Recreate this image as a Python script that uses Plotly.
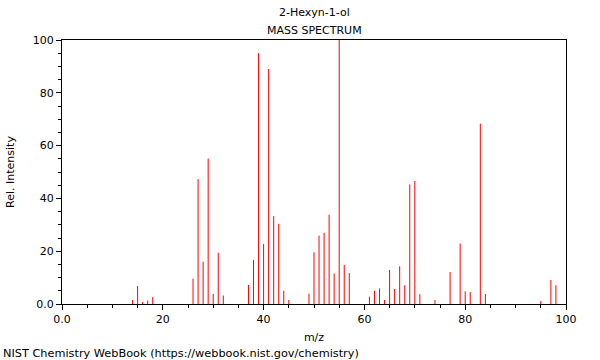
import plotly.graph_objects as go

mz = [14, 15, 16, 17, 18, 26, 27, 28, 29, 30, 31, 32, 37, 38, 39, 40, 41, 42, 43, 44, 45,
      49, 50, 51, 52, 53, 54, 55, 56, 57, 61, 62, 63, 64, 65, 66, 67, 68, 69, 70, 71,
      74, 77, 79, 80, 81, 83, 84, 95, 97, 98]
intensity = [1.5, 6.8, 0.8, 1.3, 2.6, 9.6, 47.3, 16.0, 55.1, 3.8, 19.4, 3.2, 7.2, 16.7, 95.0,
             22.7, 89.0, 33.3, 30.4, 5.0, 1.5, 3.9, 19.6, 25.9, 27.0, 33.8, 11.5, 100.0, 14.8,
             11.7, 2.8, 5.0, 5.9, 1.5, 12.9, 5.7, 14.3, 7.1, 45.3, 46.6, 3.7, 1.5, 12.1, 22.9,
             4.8, 4.5, 68.3, 3.8, 1.1, 9.1, 7.1]

tick_vals = [0, 20, 40, 60, 80, 100]
tick_text = ["0.0", "20", "40", "60", "80", "100"]

xs, ys = [], []
for m, v in zip(mz, intensity):
    xs += [m, m, None]
    ys += [0, v, None]

fig = go.Figure()
fig.add_trace(go.Scatter(x=xs, y=ys, mode="lines", line=dict(color="#ff0000", width=1),
                         hoverinfo="skip", showlegend=False))

font = dict(family="DejaVu Sans", size=11, color="black")
axis_common = dict(
    showgrid=False, zeroline=False, showline=True, linecolor="black", linewidth=1,
    mirror=True, ticks="outside", ticklen=5, tickcolor="black", tickfont=font,
    tickvals=tick_vals, ticktext=tick_text, automargin=False,
    minor=dict(ticks="outside", ticklen=3, dtick=5, tickcolor="black", showgrid=False),
)
L, R, T, B = 62, 34, 40, 56
plot_w = 600 - L - R
plot_h = 360 - T - B


def px_x(p):
    return (p - L) / plot_w


def px_y(p):
    return (360 - B - p) / plot_h


fig.update_layout(
    width=600, height=360,
    margin=dict(l=L, r=R, t=T, b=B),
    paper_bgcolor="white", plot_bgcolor="white",
    font=font,
    xaxis=dict(range=[0, 100], title=dict(text="m/z", font=font, standoff=8), **axis_common),
    yaxis=dict(range=[0, 100], title=dict(text="Rel. Intensity", font=font, standoff=15), **axis_common),
    annotations=[
        dict(text="2-Hexyn-1-ol", x=px_x(314), y=px_y(13), xref="paper", yref="paper",
             showarrow=False, font=font, yanchor="middle"),
        dict(text="MASS SPECTRUM", x=px_x(314), y=px_y(30), xref="paper", yref="paper",
             showarrow=False, font=font, yanchor="middle"),
        dict(text="NIST Chemistry WebBook (https://webbook.nist.gov/chemistry)", x=px_x(1),
             y=px_y(353), xref="paper", yref="paper", showarrow=False,
             font=dict(family="DejaVu Sans", size=11.3, color="black"),
             xanchor="left", yanchor="middle"),
    ],
)
fig.write_html("out.html", config={"displayModeBar": False},
               post_script="document.body.style.margin='0';")
